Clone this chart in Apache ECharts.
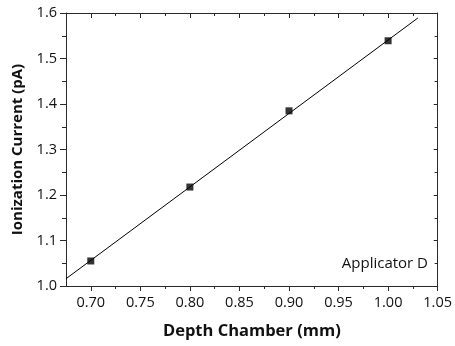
<!DOCTYPE html>
<html>
<head>
<meta charset="utf-8">
<script src="https://cdn.jsdelivr.net/npm/echarts@6/dist/echarts.min.js"></script>
<style>
  html, body { margin: 0; padding: 0; background: #fff; }
  #chart { width: 455px; height: 346px; }
</style>
</head>
<body>
<div id="chart"></div>
<script>
// measured points
var depth = [0.70, 0.80, 0.90, 1.00];
var current = [1.055, 1.2175, 1.385, 1.539];
// linear fit drawn across the plot
var fitX = [0.675, 1.03];
var fitY = [1.016, 1.589];
// tick positions
var xMajor = [0.70, 0.75, 0.80, 0.85, 0.90, 0.95, 1.00, 1.05];
var xMinor = [0.725, 0.775, 0.825, 0.875, 0.925, 0.975, 1.025];

var font = 'Open Sans';
var axisColor = '#2a2a2a';

var chart = echarts.init(document.getElementById('chart'));

function xAxisDef(pos, ticks, len, inside, labels) {
    return {
        type: 'value',
        position: pos,
        min: 0.675,
        max: 1.05,
        axisLine: { show: true, onZero: false, lineStyle: { color: axisColor, width: 1 } },
        axisTick: { show: true, inside: inside, length: len, customValues: ticks, lineStyle: { color: axisColor } },
        axisLabel: labels ? {
            show: true, customValues: xMajor, margin: 9,
            fontFamily: font, fontSize: 14.5, color: '#111',
            formatter: function (v) { return v.toFixed(2); }
        } : { show: false },
        splitLine: { show: false }
    };
}

function yAxisDef(pos, inside, labels) {
    return {
        type: 'value',
        position: pos,
        min: 1.0,
        max: 1.6,
        interval: 0.1,
        axisLine: { show: true, onZero: false, lineStyle: { color: axisColor, width: 1 } },
        axisTick: { show: true, inside: inside, length: inside ? 4 : 6, lineStyle: { color: axisColor } },
        minorTick: { show: true, splitNumber: 2, length: inside ? 3 : 4, lineStyle: { color: axisColor } },
        axisLabel: labels ? {
            show: true, margin: 9, fontFamily: font, fontSize: 14.5, color: '#111',
            formatter: function (v) { return v.toFixed(1); }
        } : { show: false },
        splitLine: { show: false }
    };
}

var xMain = xAxisDef('bottom', xMajor, 5, false, true);
xMain.name = 'Depth Chamber (mm)';
xMain.nameLocation = 'middle';
xMain.nameGap = 37;
xMain.nameTextStyle = { fontFamily: font, fontSize: 16.5, fontWeight: 'bold', color: '#111' };

var yMain = yAxisDef('left', false, true);
yMain.name = 'Ionization Current (pA)';
yMain.nameLocation = 'middle';
yMain.nameGap = 40;
yMain.nameTextStyle = { fontFamily: font, fontSize: 15, fontWeight: 'bold', color: '#111', padding: [0, 0, 0, 0] };

var option = {
    animation: false,
    grid: { left: 66, top: 13, right: 17, bottom: 60 },
    xAxis: [
        xMain,
        xAxisDef('bottom', xMinor, 3, false, false),
        xAxisDef('top', xMajor, 5, true, false),
        xAxisDef('top', xMinor, 3, true, false)
    ],
    yAxis: [
        yMain,
        yAxisDef('right', true, false)
    ],
    graphic: [{
        type: 'text',
        right: 27,
        top: 256,
        style: { text: 'Applicator D', fontFamily: font, fontSize: 15, fill: '#111' }
    }],
    series: [
        {
            type: 'line',
            data: fitX.map(function (x, i) { return [x, fitY[i]]; }),
            showSymbol: false,
            lineStyle: { color: '#000', width: 1 },
            silent: true
        },
        {
            type: 'scatter',
            data: depth.map(function (x, i) { return [x, current[i]]; }),
            symbol: 'rect',
            symbolSize: 7,
            itemStyle: { color: '#000' }
        }
    ]
};

chart.setOption(option);
</script>
</body>
</html>
